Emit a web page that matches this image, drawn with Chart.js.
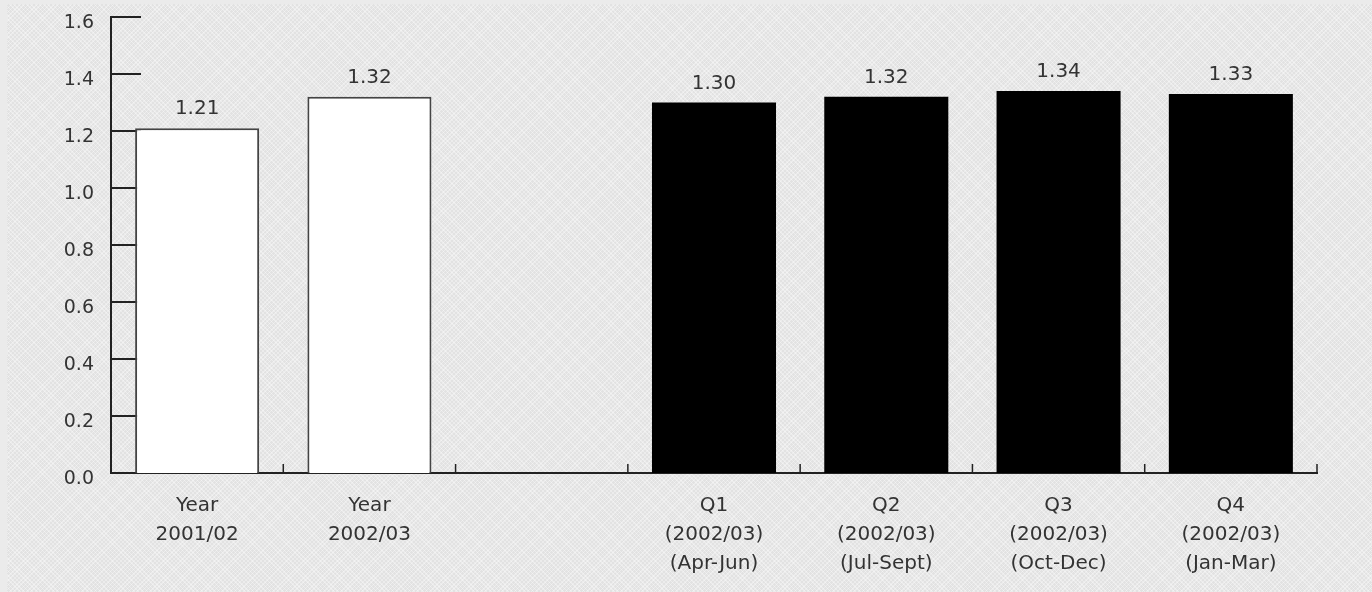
<!DOCTYPE html>
<html><head><meta charset="utf-8">
<script src="https://cdn.jsdelivr.net/npm/chart.js@4/dist/chart.umd.min.js"></script>
<style>
html,body{margin:0;padding:0;background:#ebebeb;}
#wrap{position:absolute;left:7px;top:4px;width:1365px;height:588px;
background-color:#e2e2e2;
background-image:repeating-linear-gradient(45deg, rgba(255,255,255,0.35) 0 1px, transparent 1px 3px),repeating-linear-gradient(-45deg, rgba(255,255,255,0.35) 0 1px, transparent 1px 3px);}
canvas{display:block;position:absolute;left:0;top:0;}
</style></head>
<body><div id="wrap"></div><canvas id="c" width="1372" height="592"></canvas>
<script>
const categories = [["Year","2001/02"],["Year","2002/03"],"",["Q1","(2002/03)","(Apr-Jun)"],["Q2","(2002/03)","(Jul-Sept)"],["Q3","(2002/03)","(Oct-Dec)"],["Q4","(2002/03)","(Jan-Mar)"]];
const annualValues = [1.21, 1.32, null, null, null, null, null];
const quarterValues = [null, null, null, 1.30, 1.32, 1.34, 1.33];
const yTicks = [0.0, 0.2, 0.4, 0.6, 0.8, 1.0, 1.2, 1.4, 1.6];

const FONT = "'DejaVu Sans', sans-serif";
const TXT = '#333';

const customPlugin = {
  id: 'custom',
  beforeDatasetsDraw(chart) {
    const ctx = chart.ctx;
    const ys = chart.scales.y, xs = chart.scales.x;
    const ca = chart.chartArea;
    ctx.save();
    ctx.strokeStyle = '#222';
    ctx.lineWidth = 2;
    yTicks.forEach(v => {
      const py = Math.round(ys.getPixelForValue(v));
      ctx.beginPath(); ctx.moveTo(ca.left, py); ctx.lineTo(ca.left + 30, py); ctx.stroke();
    });
    ctx.lineWidth = 1.5;
    for (let i = 1; i <= categories.length; i++) {
      const px = i < categories.length ? (xs.getPixelForValue(i - 1) + xs.getPixelForValue(i)) / 2 : ca.right;
      ctx.beginPath(); ctx.moveTo(px, ca.bottom); ctx.lineTo(px, ca.bottom - 9); ctx.stroke();
    }
    ctx.restore();
  },
  afterDatasetsDraw(chart) {
    const ctx = chart.ctx;
    ctx.save();
    ctx.fillStyle = TXT;
    ctx.font = "20px " + FONT;
    ctx.textAlign = 'center';
    ctx.textBaseline = 'middle';
    chart.data.datasets.forEach((ds, di) => {
      const meta = chart.getDatasetMeta(di);
      meta.data.forEach((el, i) => {
        const v = ds.data[i];
        if (v == null) return;
        ctx.fillText(v.toFixed(2), el.x, el.y - 19);
      });
    });
    ctx.restore();
  }
};

new Chart(document.getElementById('c'), {
  type: 'bar',
  data: {
    labels: categories,
    datasets: [
      { data: annualValues, backgroundColor: '#ffffff', borderColor: '#444', borderWidth: 2, borderSkipped: 'bottom', barPercentage: 0.72, categoryPercentage: 1 },
      { data: quarterValues, backgroundColor: '#000000', borderWidth: 0, barPercentage: 0.72, categoryPercentage: 1 }
    ]
  },
  options: {
    responsive: false,
    animation: false,
    layout: { padding: { top: 17, right: 55, left: 0, bottom: 0 } },
    plugins: { legend: { display: false }, tooltip: { enabled: false } },
    datasets: { bar: { grouped: false } },
    scales: {
      x: {
        grid: { display: false },
        border: { display: true, color: '#222', width: 2 },
        ticks: { color: TXT, font: { family: FONT, size: 20, lineHeight: 1.45 }, padding: 10, maxRotation: 0, autoSkip: false },
        afterFit(s) { s.height = 119; s.paddingLeft = 0; s.paddingRight = 0; }
      },
      y: {
        min: 0, max: 1.6,
        grid: { display: false, tickLength: 0 },
        border: { display: true, color: '#222', width: 2 },
        afterBuildTicks(s) { s.ticks = yTicks.map(v => ({ value: v })); },
        ticks: { color: TXT, font: { family: FONT, size: 19 }, padding: 17, labelOffset: 6, callback: v => Number(v).toFixed(1) },
        afterFit(s) { s.width = 111; s.paddingTop = 0; s.paddingBottom = 0; }
      }
    }
  },
  plugins: [customPlugin]
});
</script>
</body></html>
